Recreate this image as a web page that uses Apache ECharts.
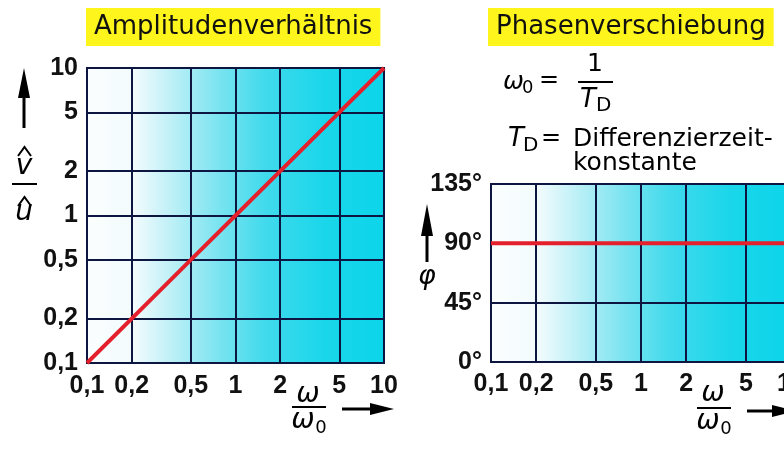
<!DOCTYPE html>
<html><head><meta charset="utf-8">
<script src="https://cdn.jsdelivr.net/npm/echarts@6/dist/echarts.min.js"></script>
<style>html,body{margin:0;padding:0;background:#fff}#c{width:784px;height:451px}</style>
</head><body><div id="c"></div>
<script>
// ---- data ----
const freqTicks = [0.1, 0.2, 0.5, 1, 2, 5, 10];        // ω/ω0 tick values (both plots)
const ampTicks = [0.1, 0.2, 0.5, 1, 2, 5, 10];         // v̂/û tick values
const phaseTicks = [0, 45, 90, 135];                   // φ tick values (degrees)
const ampOmega = [0.1, 0.2, 0.5, 1, 2, 5, 10];         // ω/ω0 of amplitude curve
const ampValue = [0.1, 0.2, 0.5, 1, 2, 5, 10];         // v̂/û
const phaseOmega = [0.1, 0.2, 0.5, 1, 2, 5, 10];       // ω/ω0 of phase curve
const phaseValue = [90, 90, 90, 90, 90, 90, 90];       // φ in degrees
const titles = ['Amplitudenverhältnis', 'Phasenverschiebung'];

const chart = echarts.init(document.getElementById('c'));
const DARK = '#0c1640', RED = '#e3202b', TXT = '#111';
const TICKFONT = "'Liberation Sans Narrow','Liberation Sans',sans-serif";
const SANS = "'DejaVu Sans','Liberation Sans',sans-serif";
const grad = () => new echarts.graphic.LinearGradient(0, 0, 1, 0, [
  {offset: 0, color: '#fbfeff'}, {offset: 0.16, color: '#f2fbfd'},
  {offset: 0.3, color: '#b8eff6'}, {offset: 0.45, color: '#78e3f0'},
  {offset: 0.6, color: '#40daec'}, {offset: 0.8, color: '#1ad6ea'},
  {offset: 1, color: '#0cd5ea'}]);
const fmt = v => String(v).replace('.', ',');
const tickLabel = {color: TXT, fontSize: 25, fontWeight: 'bold', fontFamily: TICKFONT};

function logAxis(gi, ticks, margin) {
  return {
    type: 'log', logBase: 10, gridIndex: gi, min: ticks[0], max: ticks[ticks.length - 1],
    axisLine: {show: true, lineStyle: {color: DARK, width: 2}},
    axisTick: {show: false, customValues: ticks},
    axisLabel: Object.assign({customValues: ticks, formatter: fmt, margin: margin}, tickLabel),
    splitLine: {show: true, lineStyle: {color: DARK, width: 2}}
  };
}

const option = {
  backgroundColor: '#fff',
  animation: false,
  title: titles.map((t, i) => ({
    text: t, left: i === 0 ? 86 : 488, top: 8,
    backgroundColor: '#fdf51c', padding: [6, 8, 6, 8],
    textStyle: {fontSize: 26, fontWeight: 'normal', color: TXT, fontFamily: SANS}
  })),
  grid: [
    {left: 87, top: 68, width: 297, height: 295, show: true, backgroundColor: grad(),
     borderColor: DARK, borderWidth: 2, containLabel: false, outerBoundsMode: 'none'},
    {left: 491, top: 184, width: 300, height: 178, show: true, backgroundColor: grad(),
     borderColor: DARK, borderWidth: 2, containLabel: false, outerBoundsMode: 'none'}
  ],
  xAxis: [logAxis(0, freqTicks, 11), logAxis(1, freqTicks, 10)],
  yAxis: [
    logAxis(0, ampTicks, 9),
    {type: 'value', gridIndex: 1, min: phaseTicks[0], max: phaseTicks[phaseTicks.length - 1], interval: 45,
     axisLine: {show: true, lineStyle: {color: DARK, width: 2}}, axisTick: {show: false},
     axisLabel: Object.assign({formatter: '{value}°', margin: 9}, tickLabel),
     splitLine: {show: true, lineStyle: {color: DARK, width: 2}}}
  ],
  series: [
    {type: 'line', xAxisIndex: 0, yAxisIndex: 0, symbol: 'none', z: 5,
     lineStyle: {color: RED, width: 4}, data: ampOmega.map((x, i) => [x, ampValue[i]])},
    {type: 'line', xAxisIndex: 1, yAxisIndex: 1, symbol: 'none', z: 5,
     lineStyle: {color: RED, width: 4}, data: phaseOmega.map((x, i) => [x, phaseValue[i]])}
  ],
  graphic: [
    // left y-axis name: arrow + v̂/û
    {type: 'line', shape: {x1: 24, y1: 96, x2: 24, y2: 128}, style: {stroke: '#000', lineWidth: 3}},
    {type: 'polygon', shape: {points: [[24, 68], [18, 98], [30, 98]]}, style: {fill: '#000'}},
    {type: 'polyline', shape: {points: [[18, 156], [24.5, 147], [31, 156]]}, style: {stroke: '#000', lineWidth: 2, fill: null}},
    {type: 'text', style: {text: 'v', x: 24, y: 167, align: 'center', verticalAlign: 'middle', fontSize: 28, fontStyle: 'italic', fontFamily: SANS, fill: '#000'}},
    {type: 'line', shape: {x1: 12, y1: 184, x2: 37, y2: 184}, style: {stroke: '#000', lineWidth: 2}},
    {type: 'polyline', shape: {points: [[18, 206], [24.5, 197], [31, 206]]}, style: {stroke: '#000', lineWidth: 2, fill: null}},
    {type: 'text', style: {text: 'u', x: 24, y: 213, align: 'center', verticalAlign: 'middle', fontSize: 28, fontStyle: 'italic', fontFamily: SANS, fill: '#000'}},
    // left x-axis name: ω/ω0 + arrow
    {type: 'text', style: {text: 'ω', x: 308, y: 395, align: 'center', verticalAlign: 'middle', fontSize: 28, fontStyle: 'italic', fontFamily: SANS, fill: '#000'}},
    {type: 'line', shape: {x1: 292, y1: 407, x2: 326, y2: 407}, style: {stroke: '#000', lineWidth: 2}},
    {type: 'text', style: {text: 'ω', x: 303, y: 421, align: 'center', verticalAlign: 'middle', fontSize: 28, fontStyle: 'italic', fontFamily: SANS, fill: '#000'}},
    {type: 'text', style: {text: '0', x: 321, y: 428, align: 'center', verticalAlign: 'middle', fontSize: 18, fontFamily: SANS, fill: '#000'}},
    {type: 'line', shape: {x1: 342, y1: 409, x2: 376, y2: 409}, style: {stroke: '#000', lineWidth: 3}},
    {type: 'polygon', shape: {points: [[394, 409], [370, 403], [370, 415]]}, style: {fill: '#000'}},
    // right y-axis name: arrow + φ
    {type: 'line', shape: {x1: 427, y1: 232, x2: 427, y2: 262}, style: {stroke: '#000', lineWidth: 3}},
    {type: 'polygon', shape: {points: [[427, 204], [421, 236], [433, 236]]}, style: {fill: '#000'}},
    {type: 'text', style: {text: 'φ', x: 427, y: 277, align: 'center', verticalAlign: 'middle', fontSize: 27, fontStyle: 'italic', fontFamily: SANS, fill: '#000'}},
    // right x-axis name: ω/ω0 + arrow
    {type: 'text', style: {text: 'ω', x: 713, y: 394, align: 'center', verticalAlign: 'middle', fontSize: 28, fontStyle: 'italic', fontFamily: SANS, fill: '#000'}},
    {type: 'line', shape: {x1: 697, y1: 408, x2: 731, y2: 408}, style: {stroke: '#000', lineWidth: 2}},
    {type: 'text', style: {text: 'ω', x: 708, y: 422, align: 'center', verticalAlign: 'middle', fontSize: 28, fontStyle: 'italic', fontFamily: SANS, fill: '#000'}},
    {type: 'text', style: {text: '0', x: 726, y: 429, align: 'center', verticalAlign: 'middle', fontSize: 18, fontFamily: SANS, fill: '#000'}},
    {type: 'line', shape: {x1: 747, y1: 411, x2: 778, y2: 411}, style: {stroke: '#000', lineWidth: 3}},
    {type: 'polygon', shape: {points: [[796, 411], [772, 405], [772, 417]]}, style: {fill: '#000'}},
    // formula ω0 = 1/TD
    {type: 'text', style: {text: 'ω', x: 503, y: 82, verticalAlign: 'middle', fontSize: 25, fontStyle: 'italic', fontFamily: SANS, fill: '#000'}},
    {type: 'text', style: {text: '0', x: 522, y: 88, verticalAlign: 'middle', fontSize: 18, fontFamily: SANS, fill: '#000'}},
    {type: 'text', style: {text: '=', x: 539, y: 81, verticalAlign: 'middle', fontSize: 24, fontFamily: SANS, fill: '#000'}},
    {type: 'text', style: {text: '1', x: 595, y: 64, align: 'center', verticalAlign: 'middle', fontSize: 25, fontFamily: SANS, fill: '#000'}},
    {type: 'line', shape: {x1: 578, y1: 82, x2: 613, y2: 82}, style: {stroke: '#000', lineWidth: 2}},
    {type: 'text', style: {text: 'T', x: 580, y: 100, verticalAlign: 'middle', fontSize: 26, fontStyle: 'italic', fontFamily: SANS, fill: '#000'}},
    {type: 'text', style: {text: 'D', x: 596, y: 106, verticalAlign: 'middle', fontSize: 20, fontFamily: SANS, fill: '#000'}},
    // TD = Differenzierzeit-konstante
    {type: 'text', style: {text: 'T', x: 508, y: 139, verticalAlign: 'middle', fontSize: 26, fontStyle: 'italic', fontFamily: SANS, fill: '#000'}},
    {type: 'text', style: {text: 'D', x: 523, y: 146, verticalAlign: 'middle', fontSize: 20, fontFamily: SANS, fill: '#000'}},
    {type: 'text', style: {text: '=', x: 541, y: 139, verticalAlign: 'middle', fontSize: 24, fontFamily: SANS, fill: '#000'}},
    {type: 'text', style: {text: 'Differenzierzeit-', x: 573, y: 139, verticalAlign: 'middle', fontSize: 25, fontFamily: SANS, fill: '#000'}},
    {type: 'text', style: {text: 'konstante', x: 573, y: 163, verticalAlign: 'middle', fontSize: 25, fontFamily: SANS, fill: '#000'}}
  ]
};
chart.setOption(option);
</script></body></html>
